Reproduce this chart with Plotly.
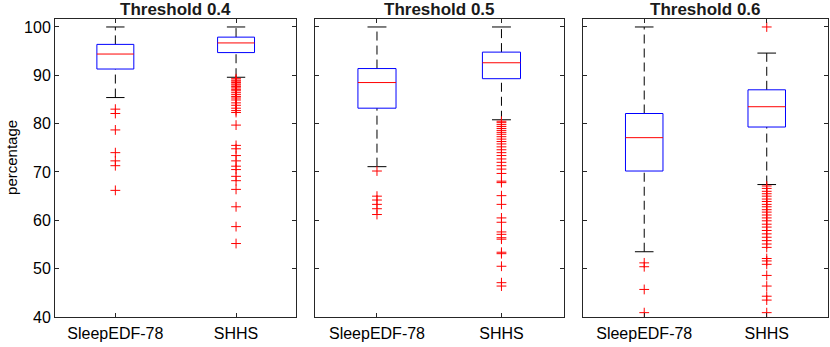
import plotly.graph_objects as go

# panel titles and group names
thresholds = ["Threshold 0.4", "Threshold 0.5", "Threshold 0.6"]
groups = ["SleepEDF-78", "SHHS"]

# box statistics, per panel: [SleepEDF-78, SHHS]
lower_whisker = [[85.4, 89.6], [71.1, 80.8], [53.5, 67.4]]
q1 = [[91.3, 94.7], [83.2, 89.3], [70.2, 79.3]]
median = [[94.4, 96.7], [88.5, 92.6], [77.1, 83.5]]
q3 = [[96.4, 97.9], [91.4, 94.8], [82.1, 87.0]]
upper_whisker = [[100.0, 100.0], [100.0, 100.0], [100.0, 94.6]]

# outliers
t04_sleep = [83.0, 82.1, 78.7, 74.0, 72.3, 71.3, 66.2]
t04_shhs = [89.3, 89.0, 88.8, 88.5, 88.2, 88.0, 87.7, 87.4, 87.1, 86.8, 86.4,
            86.0, 85.6, 85.3, 84.9, 84.3, 83.8, 83.2, 82.7, 82.3, 79.7, 75.5,
            74.8, 73.4, 72.3, 71.2, 70.5, 69.1, 68.2, 66.4, 62.8, 58.7, 55.2]
t05_sleep = [70.2, 65.0, 64.2, 63.3, 62.4, 61.2]
t05_shhs = [80.5, 80.2, 79.8, 79.4, 79.0, 78.6, 78.2, 77.8, 77.3, 76.8, 76.3,
            75.8, 75.2, 74.6, 74.0, 73.4, 72.7, 72.0, 71.3, 70.6, 69.7, 68.1,
            67.8, 65.1, 63.3, 60.5, 59.6, 57.6, 57.1, 56.4, 56.1, 53.4, 53.1,
            50.5, 47.1, 46.4]
t06_sleep = [51.2, 50.4, 45.7, 40.9]
t06_shhs = [100.0, 67.1, 66.6, 66.0, 65.5, 65.0, 64.4, 63.9, 63.3, 62.8, 62.2,
            61.7, 61.1, 60.5, 59.9, 59.2, 58.6, 57.9, 57.2, 56.5, 55.8, 55.1,
            54.4, 52.1, 51.6, 50.9, 48.6, 46.4, 44.3, 43.5, 40.9]
outliers = [[t04_sleep, t04_shhs], [t05_sleep, t05_shhs], [t06_sleep, t06_shhs]]

y_ticks = [40, 50, 60, 70, 80, 90, 100]

FONT = "Liberation Sans, Arial, Helvetica, sans-serif"
AX = "#262626"
BOX_W = 0.153   # half width of box in x units
CAP_W = 0.076

domains = [[0.0, 0.3123], [0.336, 0.6581], [0.683, 1.0]]

fig = go.Figure()

for p in range(3):
    xa = "x" if p == 0 else f"x{p + 1}"
    ya = "y" if p == 0 else f"y{p + 1}"
    for g in range(2):
        x = g + 1
        # whiskers (dashed)
        for a, b in [(q3[p][g], upper_whisker[p][g]), (lower_whisker[p][g], q1[p][g])]:
            fig.add_trace(go.Scatter(x=[x, x], y=[a, b], mode="lines", xaxis=xa, yaxis=ya,
                                     line=dict(color="black", width=1, dash="9px,5px"),
                                     showlegend=False, hoverinfo="skip"))
        # caps
        for v in (upper_whisker[p][g], lower_whisker[p][g]):
            fig.add_trace(go.Scatter(x=[x - CAP_W, x + CAP_W], y=[v, v], mode="lines",
                                     xaxis=xa, yaxis=ya, line=dict(color="black", width=1),
                                     showlegend=False, hoverinfo="skip"))
        # box
        fig.add_trace(go.Scatter(x=[x - BOX_W, x + BOX_W, x + BOX_W, x - BOX_W, x - BOX_W],
                                 y=[q1[p][g], q1[p][g], q3[p][g], q3[p][g], q1[p][g]],
                                 mode="lines", xaxis=xa, yaxis=ya,
                                 line=dict(color="#0000ff", width=1),
                                 showlegend=False, hoverinfo="skip"))
        # median
        fig.add_trace(go.Scatter(x=[x - BOX_W, x + BOX_W], y=[median[p][g]] * 2,
                                 mode="lines", xaxis=xa, yaxis=ya,
                                 line=dict(color="#ff0000", width=1),
                                 showlegend=False, hoverinfo="skip"))
        # outliers
        fig.add_trace(go.Scatter(x=[x] * len(outliers[p][g]), y=outliers[p][g],
                                 mode="markers", xaxis=xa, yaxis=ya,
                                 marker=dict(symbol="cross-thin", size=7,
                                             line=dict(color="#ff0000", width=1)),
                                 showlegend=False))

    xkey = "xaxis" if p == 0 else f"xaxis{p + 1}"
    ykey = "yaxis" if p == 0 else f"yaxis{p + 1}"
    fig.update_layout({
        xkey: dict(domain=domains[p], anchor=ya, range=[0.5, 2.5],
                   tickvals=[1, 2], ticktext=groups, ticks="inside", ticklen=4,
                   tickcolor=AX, showline=True, linecolor=AX, linewidth=1,
                   mirror="allticks", showgrid=False, zeroline=False,
                   ticklabelstandoff=2,
                   tickfont=dict(family=FONT, size=16, color="black")),
        ykey: dict(anchor=xa, range=[40, 101.65], tickvals=y_ticks,
                   ticks="inside", ticklen=4, tickcolor=AX, showline=True,
                   linecolor=AX, linewidth=1, mirror="allticks", showgrid=False,
                   zeroline=False, showticklabels=(p == 0),
                   tickfont=dict(family=FONT, size=16, color="black")),
    })
    fig.add_annotation(text="<b>" + thresholds[p] + "</b>", xref="paper", yref="paper",
                       x=sum(domains[p]) / 2, y=1.033, xanchor="center", yanchor="middle",
                       showarrow=False, font=dict(family=FONT, size=17, color="#1a1a1a"))

fig.add_annotation(text="percentage", xref="paper", yref="paper", x=-0.0555, y=0.534,
                   xanchor="center", yanchor="middle", textangle=-90, showarrow=False,
                   font=dict(family=FONT, size=15, color="black"))

fig.update_layout(width=830, height=347, margin=dict(l=55, r=2, t=19, b=30),
                  plot_bgcolor="white", paper_bgcolor="white")

# drop the browser's default body margin so the figure sits at the page origin
fig.write_html("out.html", config={"displayModeBar": False},
               post_script="document.body.style.margin='0';")
